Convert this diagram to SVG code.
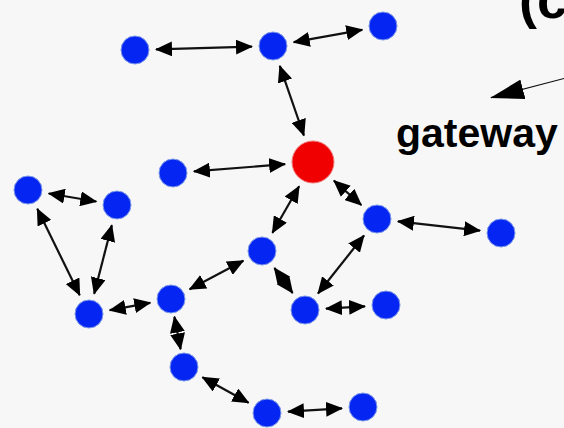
<svg xmlns="http://www.w3.org/2000/svg" width="564" height="428" viewBox="0 0 564 428">
<defs>
<style>
.n{fill:#0526f2;stroke:#7f9ae8;stroke-width:1}
.g{fill:#f00000;stroke:#f08080;stroke-width:1}
.e{stroke:#111;stroke-width:2.2;fill:none;marker-start:url(#ah);marker-end:url(#ah)}
.t{font-family:"Liberation Sans",Arial,sans-serif;font-weight:bold;fill:#000}
</style>
<marker id="ah" viewBox="0 0 17 15" refX="16" refY="7.5" markerWidth="17" markerHeight="15" markerUnits="userSpaceOnUse" orient="auto-start-reverse">
<path d="M0,0 L17,7.5 L0,15 z" fill="#000"/>
</marker>
<marker id="big" viewBox="0 0 34 20" refX="33" refY="10" markerWidth="34" markerHeight="20" markerUnits="userSpaceOnUse" orient="auto">
<path d="M0,0 L34,10 L0,20 z" fill="#000"/>
</marker>
</defs>
<rect width="564" height="428" fill="#f7f7f7"/>
<g id="connectors">
<line class="e" x1="156" y1="49.4" x2="252" y2="46.6"/>
<line class="e" x1="293.7" y1="42.2" x2="362.3" y2="29.8"/>
<line class="e" x1="279.8" y1="65.9" x2="303.9" y2="135.5"/>
<line class="e" x1="193.9" y1="171.4" x2="285.1" y2="164.2"/>
<line class="e" x1="299.1" y1="186.3" x2="272.4" y2="232.8"/>
<line class="e" x1="333.9" y1="180.6" x2="361.3" y2="205"/>
<line class="e" x1="397.9" y1="221.4" x2="480.1" y2="230.6"/>
<line class="e" x1="364" y1="235.5" x2="318" y2="293.5"/>
<line class="e" x1="48.7" y1="193.5" x2="96.3" y2="201.5"/>
<line class="e" x1="37.3" y1="208.8" x2="79.7" y2="295.2"/>
<line class="e" x1="111.8" y1="225.3" x2="94.2" y2="293.7"/>
<line class="e" x1="109.7" y1="310.2" x2="150.3" y2="302.8"/>
<line class="e" x1="189.6" y1="289.2" x2="243.4" y2="260.8"/>
<line class="e" x1="174.4" y1="316.7" x2="180.6" y2="349.3"/>
<line class="e" x1="274.4" y1="268" x2="292.6" y2="293"/>
<line class="e" x1="326" y1="308.7" x2="365" y2="306.3"/>
<line class="e" x1="202.4" y1="377.2" x2="248.6" y2="402.8"/>
<line class="e" x1="288" y1="411.7" x2="342" y2="408.3"/>
<line x1="564" y1="78.5" x2="491" y2="97.7" stroke="#111" stroke-width="1.2" marker-end="url(#big)"/>
</g>
<g id="n1"><circle class="n" cx="135" cy="50" r="14"/></g>
<g id="n2"><circle class="n" cx="273" cy="46" r="14"/></g>
<g id="n3"><circle class="n" cx="383" cy="26" r="14"/></g>
<g id="gateway-node"><circle class="g" cx="313" cy="162" r="21"/></g>
<g id="n5"><circle class="n" cx="173" cy="173" r="14"/></g>
<g id="n6"><circle class="n" cx="28" cy="190" r="14"/></g>
<g id="n7"><circle class="n" cx="117" cy="205" r="14"/></g>
<g id="n8"><circle class="n" cx="377" cy="219" r="14"/></g>
<g id="n9"><circle class="n" cx="501" cy="233" r="14"/></g>
<g id="n10"><circle class="n" cx="262" cy="251" r="14"/></g>
<g id="n11"><circle class="n" cx="171" cy="299" r="14"/></g>
<g id="n12"><circle class="n" cx="89" cy="314" r="14"/></g>
<g id="n13"><circle class="n" cx="305" cy="310" r="14"/></g>
<g id="n14"><circle class="n" cx="386" cy="305" r="14"/></g>
<g id="n15"><circle class="n" cx="184" cy="367" r="14"/></g>
<g id="n16"><circle class="n" cx="267" cy="413" r="14"/></g>
<g id="n17"><circle class="n" cx="363" cy="407" r="14"/></g>
<g id="labels">
<text class="t" x="519" y="18" font-size="54">(c</text>
<text class="t" x="396" y="147" font-size="41">gateway</text>
</g>
</svg>
